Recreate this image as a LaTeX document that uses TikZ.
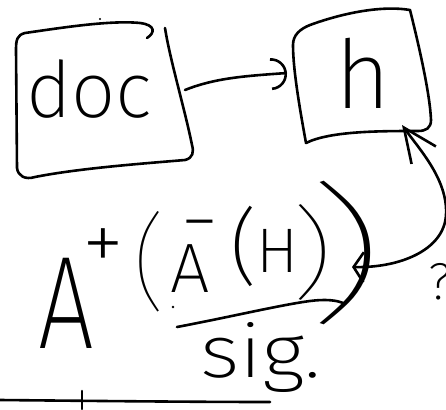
\documentclass[tikz,border=0pt]{standalone}
\usepackage{fontspec}
\setmainfont{Fira Sans ExtraLight}
\newfontfamily\thinfont{Fira Sans Thin}
\usetikzlibrary{arrows.meta}
\newcommand\fs[1]{\fontsize{#1}{#1}\selectfont}
\begin{document}
\begin{tikzpicture}[x=1pt,y=-1pt,
  pen/.style={line width=2.6pt,line cap=round,line join=round},
  txt/.style={inner sep=0pt,outer sep=0pt}]
\useasboundingbox (0,0) rectangle (446,409);
% boxes
\draw[pen] (147,38) .. controls (155,33) and (156,25) .. (140,23)
  .. controls (110,20) and (60,28) .. (25,33)
  .. controls (17,35) and (16,40) .. (16,50) -- (17,168)
  .. controls (18,176) and (25,180) .. (35,177)
  .. controls (80,168) and (150,163) .. (185,160)
  .. controls (193,158) and (194,152) .. (192,145)
  .. controls (185,110) and (170,60) .. (165,28);
\draw[pen] (306,143) .. controls (300,110) and (293,70) .. (293,45)
  .. controls (293,35) and (300,29) .. (310,25)
  .. controls (340,14) and (380,5) .. (410,10)
  .. controls (420,50) and (430,95) .. (431,120)
  .. controls (431,128) and (426,131) .. (418,131)
  .. controls (380,131) and (330,131) .. (306,143) -- cycle;
\fill (100,19) circle (1.2pt);
\fill (173,307) circle (1.4pt);
% texts
\node[txt,anchor=base] (doc) at (89,117) {\fs{78}doc};
\node[txt,anchor=base] (h) at (363,108) {\fs{95}h};
\node[txt,anchor=base,xscale=0.75] (A1) at (66,348) {\fs{132}A};
\node[txt] (plus) at (103,250) {\fs{85}+};
\node[txt] (p1) at (150,262) {\thinfont\fs{105}(};
\node[txt] (minus) at (200,233) {\fs{75}−};
\node[txt,anchor=base] (A2) at (190,292) {\fs{70}A};
\node[txt] (p2) at (244,246) {\fs{83}(};
\node[txt,anchor=base] (H) at (278,272) {\fs{63}H};
\node[txt,xscale=1.4] (p3) at (312,252) {\thinfont\fs{100})};
\node[txt,xscale=1.8] (p4) at (345,253) {\thinfont\fs{150})};
\node[txt,anchor=base,xscale=1.15] (sig) at (261,377) {\fs{74}sig.};
\node[txt] (q) at (440,282) {\fs{52}?};
% connectors
\coordinate (docE) at (185,90);
\coordinate (hW) at (287,73);
\coordinate (hB) at (402,125);
\coordinate (parR) at (352,267);
\draw[pen,-{Arc Barb[length=16pt,width=32pt]}] (docE) .. controls (215,78) and (245,76) .. (hW);
\draw[pen,{Straight Barb[length=34pt,width=30pt]}-{Straight Barb[length=10pt,width=30pt]}]
  (hB) .. controls (420,150) and (448,180) .. (446,215)
  .. controls (444,250) and (400,268) .. (parR);
% underline and base line
\draw[pen] (177,327) .. controls (230,317) and (280,305) .. (310,301)
  .. controls (325,299) and (338,300) .. (345,304);
\draw[pen] (0,400) .. controls (100,401) and (200,402) .. (270,402);
\draw[pen] (82,391) -- (82,409);
\end{tikzpicture}
\end{document}
